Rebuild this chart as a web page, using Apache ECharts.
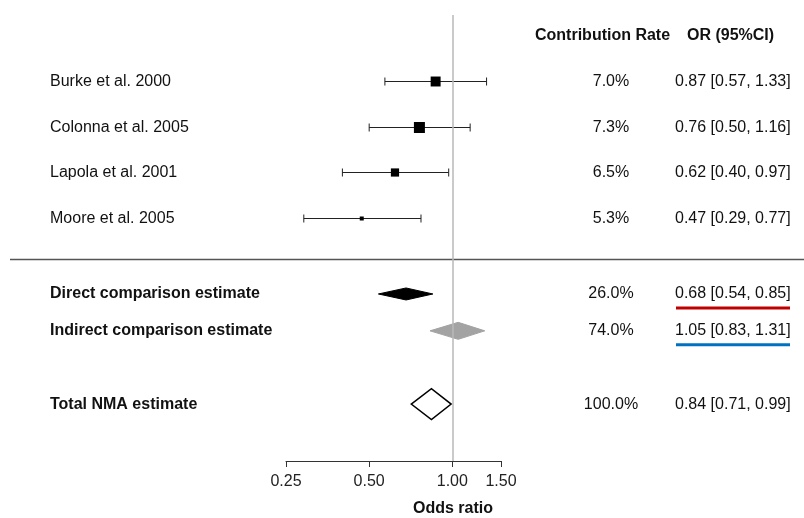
<!DOCTYPE html>
<html>
<head>
<meta charset="utf-8">
<title>Forest plot</title>
<script src="https://cdn.jsdelivr.net/npm/echarts@6/dist/echarts.min.js"></script>
<style>
  html, body { margin: 0; padding: 0; background: #fff; }
  #main { width: 804px; height: 518px; }
</style>
</head>
<body>
<div id="main"></div>
<script>
// studies
var studyNames = ['Burke et al. 2000', 'Colonna et al. 2005', 'Lapola et al. 2001', 'Moore et al. 2005'];
var studyOR = [0.87, 0.76, 0.62, 0.47];
var studyLower = [0.57, 0.50, 0.40, 0.29];
var studyUpper = [1.33, 1.16, 0.97, 0.77];
var studyRate = [7.0, 7.3, 6.5, 5.3];

// pooled estimates
var pooledNames = ['Direct comparison estimate', 'Indirect comparison estimate', 'Total NMA estimate'];
var pooledOR = [0.68, 1.05, 0.84];
var pooledLower = [0.54, 0.83, 0.71];
var pooledUpper = [0.85, 1.31, 0.99];
var pooledRate = [26.0, 74.0, 100.0];

// x axis ticks
var xTicks = [0.25, 0.50, 1.00, 1.50];

// row layout (y axis units, one study row = 1)
var studyRows = [1, 2, 3, 4];
var pooledRows = [5.68, 6.49, 8.10];

var FONT = '"Liberation Sans", Arial, sans-serif';
var chart = echarts.init(document.getElementById('main'));

function fmt(v) { return v.toFixed(2); }
function orText(o, l, u) { return fmt(o) + ' [' + fmt(l) + ', ' + fmt(u) + ']'; }

// 列位置
var COL_LABEL = 50, COL_RATE = 611, COL_OR = 675;

var diamondStyle = [
  { fill: '#000', stroke: '#000', lineWidth: 1, h: 6, under: '#c00000' },
  { fill: '#a3a3a3', stroke: '#a3a3a3', lineWidth: 1, h: 8.5, under: '#0070c0' },
  { fill: '#fff', stroke: '#000', lineWidth: 1.5, h: 15.5, under: null }
];

function txt(x, y, s, align, bold) {
  return { type: 'text', x: x, y: y, style: { text: s, font: (bold ? 'bold ' : '') + '16px ' + FONT, fill: '#111', textAlign: align, textVerticalAlign: 'middle' } };
}

function renderStudy(params, api) {
  var i = api.value(4);
  var c = api.coord([api.value(0), api.value(1)]);
  var lo = api.coord([api.value(2), api.value(1)]);
  var hi = api.coord([api.value(3), api.value(1)]);
  var y = Math.round(c[1]) + 0.5;
  var s = 4 + (studyRate[i] - 5.3) * 3.5;
  var ln = { stroke: '#222', lineWidth: 1 };
  return {
    type: 'group',
    children: [
      { type: 'line', shape: { x1: lo[0], y1: y, x2: hi[0], y2: y }, style: ln },
      { type: 'line', shape: { x1: lo[0], y1: y - 4, x2: lo[0], y2: y + 4 }, style: ln },
      { type: 'line', shape: { x1: hi[0], y1: y - 4, x2: hi[0], y2: y + 4 }, style: ln },
      { type: 'rect', shape: { x: c[0] - s / 2, y: y - s / 2, width: s, height: s }, style: { fill: '#000' } },
      txt(COL_LABEL, y, studyNames[i], 'left', false),
      txt(COL_RATE, y, studyRate[i].toFixed(1) + '%', 'center', false),
      txt(COL_OR, y, orText(studyOR[i], studyLower[i], studyUpper[i]), 'left', false)
    ]
  };
}

function renderPooled(params, api) {
  var i = api.value(4);
  var c = api.coord([api.value(0), api.value(1)]);
  var lo = api.coord([api.value(2), api.value(1)]);
  var hi = api.coord([api.value(3), api.value(1)]);
  var y = c[1];
  var st = diamondStyle[i];
  var kids = [
    { type: 'polygon', shape: { points: [[lo[0], y], [c[0], y - st.h], [hi[0], y], [c[0], y + st.h]] },
      style: { fill: st.fill, stroke: st.stroke, lineWidth: st.lineWidth } },
    txt(COL_LABEL, y, pooledNames[i], 'left', true),
    txt(COL_RATE, y, pooledRate[i].toFixed(1) + '%', 'center', false),
    txt(COL_OR, y, orText(pooledOR[i], pooledLower[i], pooledUpper[i]), 'left', false)
  ];
  if (st.under) {
    kids.push({ type: 'line', shape: { x1: COL_OR + 1, y1: y + 14, x2: COL_OR + 115, y2: y + 14 }, style: { stroke: st.under, lineWidth: 3 } });
  }
  return { type: 'group', children: kids };
}

var option = {
  backgroundColor: '#fff',
  animation: false,
  grid: { left: 286, right: 303, top: 15, bottom: 57 },
  xAxis: {
    type: 'log',
    logBase: 2,
    min: 0.25,
    max: 1.5,
    position: 'bottom',
    axisLine: { onZero: false, lineStyle: { color: '#333', width: 1 } },
    axisTick: { show: true, length: 6, inside: false, customValues: xTicks, lineStyle: { color: '#333' } },
    axisLabel: { customValues: xTicks, margin: 13, fontSize: 16, fontFamily: FONT, color: '#222', formatter: function (v) { return fmt(v); } },
    splitLine: { show: false }
  },
  yAxis: {
    type: 'value',
    inverse: true,
    min: -0.45,
    max: 9.35,
    show: false
  },
  graphic: [
    { type: 'text', left: 535, top: 28, style: { text: 'Contribution Rate', font: 'bold 16px ' + FONT, fill: '#111' } },
    { type: 'text', left: 687, top: 28, style: { text: 'OR (95%CI)', font: 'bold 16px ' + FONT, fill: '#111' } },
    { type: 'line', shape: { x1: 10, y1: 259.5, x2: 804, y2: 259.5 }, style: { stroke: '#555', lineWidth: 1.5 } },
    { type: 'text', x: 453, y: 509, style: { text: 'Odds ratio', font: 'bold 16px ' + FONT, fill: '#111', textAlign: 'center', textVerticalAlign: 'middle' } }
  ],
  series: [
    {
      type: 'custom',
      clip: false,
      renderItem: renderStudy,
      encode: { x: 0, y: 1 },
      data: studyNames.map(function (n, i) { return [studyOR[i], studyRows[i], studyLower[i], studyUpper[i], i]; }),
      markLine: {
        silent: true,
        symbol: 'none',
        label: { show: false },
        lineStyle: { color: '#b8b8b8', width: 1.5, type: 'solid' },
        data: [{ xAxis: 1 }]
      },
      z: 3
    },
    {
      type: 'custom',
      clip: false,
      renderItem: renderPooled,
      encode: { x: 0, y: 1 },
      data: pooledNames.map(function (n, i) { return [pooledOR[i], pooledRows[i], pooledLower[i], pooledUpper[i], i]; }),
      z: 3
    }
  ]
};
chart.setOption(option);
</script>
</body>
</html>
